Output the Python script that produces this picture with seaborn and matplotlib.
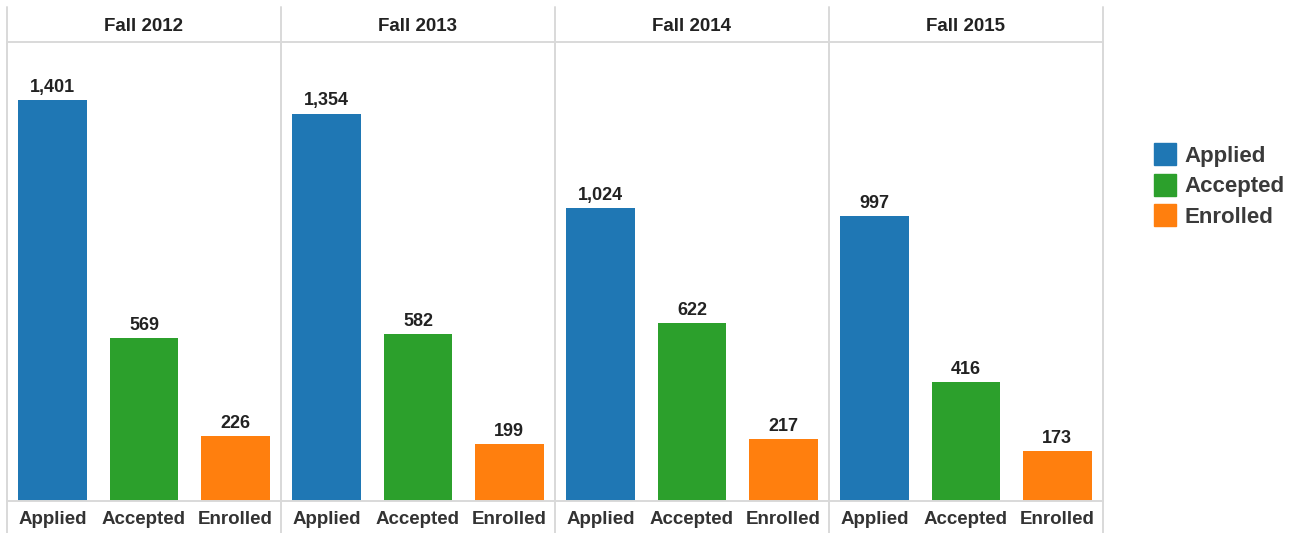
import pandas as pd
import matplotlib
matplotlib.use("Agg")
import matplotlib.pyplot as plt
from matplotlib.lines import Line2D
import seaborn as sns

# Datos
terms = ["Fall 2012", "Fall 2013", "Fall 2014", "Fall 2015"]
stages = ["Applied", "Accepted", "Enrolled"]
applied = [1401, 1354, 1024, 997]
accepted = [569, 582, 622, 416]
enrolled = [226, 199, 217, 173]
colors = ["#1f77b4", "#2ca02c", "#ff7f0e"]

# Tabla larga para seaborn
rows = []
for i, term in enumerate(terms):
    for stage, vals in zip(stages, [applied, accepted, enrolled]):
        rows.append({"term": term, "stage": stage, "count": vals[i]})
df = pd.DataFrame(rows)

sns.set_style("white")
plt.rcParams["font.family"] = ["Liberation Sans", "DejaVu Sans"]

W, H = 1294, 533
fig = plt.figure(figsize=(W / 100, H / 100), dpi=100)
grid = "#d9d9d9"

x0, fw = 7, 274
top, base = 42, 501
for i, term in enumerate(terms):
    ax = fig.add_axes([(x0 + i * fw) / W, (H - base) / H, fw / W, (base - top) / H])
    sub = df[df["term"] == term]
    sns.barplot(data=sub, x="stage", y="count", hue="stage", order=stages,
                hue_order=stages, palette=colors, width=0.75, saturation=1,
                linewidth=0, legend=False, ax=ax)
    for cont in ax.containers:
        ax.bar_label(cont, fmt="{:,.0f}", padding=3, fontsize=13,
                     fontweight="bold", color="#222222")
    ax.set_ylim(0, 1604)
    ax.set_xlim(-0.5, 2.5)
    ax.set_xlabel("")
    ax.set_ylabel("")
    ax.set_yticks([])
    ax.tick_params(axis="x", which="major", length=0, pad=7.5, labelsize=13.5,
                   labelcolor="#333333")
    for lab in ax.get_xticklabels():
        lab.set_fontweight("bold")
    ax.set_xticks([0.5, 1.5], minor=True)
    ax.tick_params(axis="x", which="minor", length=4.5, width=1, color=grid,
                   direction="out")
    for side in ["left", "right", "top", "bottom"]:
        ax.spines[side].set_color(grid)
        ax.spines[side].set_linewidth(1.4)
    ax.text(0.5, 1 + 15 / (base - top), term, transform=ax.transAxes,
            ha="center", va="center", fontsize=13.5, fontweight="bold",
            color="#222222")

# Líneas verticales de separación que cruzan encabezado y etiquetas
for i in range(len(terms) + 1):
    xf = (x0 + i * fw) / W
    fig.add_artist(Line2D([xf, xf], [0, (H - 7) / H], color=grid, lw=1.4,
                          transform=fig.transFigure))

handles = [Line2D([], [], marker="s", linestyle="", markersize=16,
                  markerfacecolor=c, markeredgecolor=c) for c in colors]
leg = fig.legend(handles, stages, loc="center left",
                 bbox_to_anchor=(1154 / W, 1 - 187 / H), frameon=False,
                 fontsize=16, handlelength=1.0, handletextpad=0.35,
                 labelspacing=0.42, borderpad=0, borderaxespad=0)
for t in leg.get_texts():
    t.set_fontweight("bold")
    t.set_color("#3a3a3a")

fig.savefig("out.png", dpi=100)
